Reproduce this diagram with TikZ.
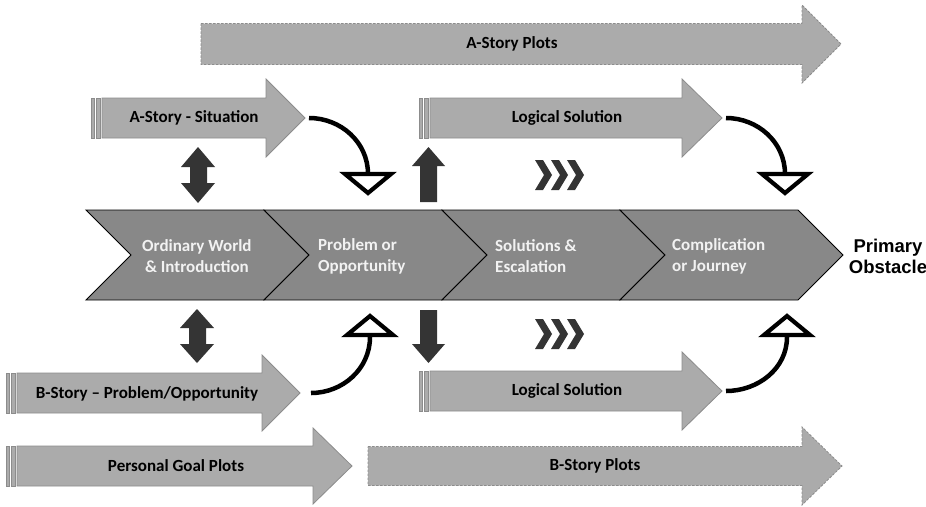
\documentclass[tikz,border=0pt]{standalone}
\usepackage{fontspec}
\setmainfont{Carlito}
\newfontfamily\headfont{Liberation Sans}

\definecolor{plotfill}{RGB}{171,171,171}
\definecolor{plotedge}{RGB}{140,140,140}
\definecolor{stagefill}{RGB}{136,136,136}
\definecolor{stagetext}{RGB}{242,242,242}
\definecolor{markfill}{RGB}{52,52,52}

% block arrow: #1 style, #2 left x, #3 head base x, #4 tip x, #5 centre y, #6 body half height, #7 head half height
\newcommand\plotshape[7]{%
  \path[#1] (#2,#5-#6) -- (#3,#5-#6) -- (#3,#5-#7) -- (#4,#5) -- (#3,#5+#7)
    -- (#3,#5+#6) -- (#2,#5+#6) -- cycle;}
% striped tail: two thin bars left of the body; #1 left x, #2 centre y, #3 half height
\newcommand\plotstripes[3]{%
  \path[plotbar] (#1,#2-#3) rectangle (#1+3,#2+#3);
  \path[plotbar] (#1+5,#2-#3) rectangle (#1+9,#2+#3);}
% one stage of the main band: #1 left x
\newcommand\stageshape[1]{%
  \path[stage] (#1,210) -- (#1+178,210) -- (#1+223,255) -- (#1+178,300)
    -- (#1,300) -- (#1+45,255) -- cycle;}
% small chevron mark: #1 left x, #2 top y
\newcommand\chevmark[2]{%
  \path[mark fill] (#1,#2) -- (#1+8,#2) -- (#1+17,#2+15) -- (#1+8,#2+30)
    -- (#1,#2+30) -- (#1+9,#2+15) -- cycle;}

\tikzset{
  plotbody/.style={fill=plotfill, draw=plotedge, line width=0.8pt, line join=miter},
  plotdash/.style={plotbody, dash pattern=on 2.5pt off 1.5pt},
  plotbar/.style={fill=plotfill, draw=plotedge, line width=0.6pt},
  plotlabel/.style={font=\bfseries\fontsize{17}{21}\selectfont, text=black},
  stage/.style={fill=stagefill, draw=black, line width=0.9pt, line join=miter},
  stagelabel/.style={font=\bfseries\fontsize{17}{21}\selectfont, text=stagetext,
    align=left, anchor=west, inner sep=0pt},
  mark fill/.style={fill=markfill},
  bendline/.style={draw=black, line width=4.5pt},
  opentip/.style={draw=black, fill=white, line width=4.2pt, line join=miter},
}

\begin{document}
\begin{tikzpicture}[x=1pt,y=-1pt]
\useasboundingbox (0,0) rectangle (926,506);
\clip (0,0) rectangle (926,506);
\fill[white] (0,0) rectangle (926,506);

% plot arrows
\plotshape{plotdash}{201}{802}{841}{44}{20.5}{39}
\node[plotlabel] (aplots) at (512,44) {A-Story Plots};

\plotstripes{91}{118}{20}
\plotshape{plotbody}{102}{266}{305}{118}{20}{39}
\node[plotlabel] (asit) at (194,118) {A-Story - Situation};
\coordinate (asit-tip) at (309,118);

\plotstripes{419}{118}{20}
\plotshape{plotbody}{430}{682}{722}{118}{20}{39}
\node[plotlabel] (alog) at (567,118) {Logical Solution};
\coordinate (alog-tip) at (726,118);

\plotstripes{6}{393}{20}
\plotshape{plotbody}{17}{262}{300}{393}{20}{38}
\node[plotlabel] (bprob) at (147,394) {B-Story – Problem/Opportunity};
\coordinate (bprob-tip) at (311,393);

\plotstripes{419}{391}{20}
\plotshape{plotbody}{430}{682}{722}{391}{20}{39}
\node[plotlabel] (blog) at (567,391) {Logical Solution};
\coordinate (blog-tip) at (726,391);

\plotstripes{6}{466}{20}
\plotshape{plotbody}{17}{313}{352}{466}{20}{38}
\node[plotlabel] (goal) at (176,466) {Personal Goal Plots};

\plotshape{plotdash}{368}{802}{842}{466}{19.5}{39}
\node[plotlabel] (bplots) at (595,466) {B-Story Plots};

% main band of stages
\stageshape{86}
\stageshape{264}
\stageshape{442}
\stageshape{620}
\node[stagelabel] (s1) at (142,256) {Ordinary World\\\,\& Introduction};
\node[stagelabel] (s2) at (318,256) {Problem or\\Opportunity};
\node[stagelabel] (s3) at (495,256) {Solutions \&\\Escalation};
\node[stagelabel] (s4) at (672,256) {Complication\\or Journey};
\node[font=\headfont\bfseries\fontsize{18.5}{21}\selectfont, align=center, inner sep=0pt]
  (goalend) at (888,256) {Primary\\Obstacle};

% double-headed markers
\path[mark fill] (198,147) -- (215,167) -- (207,167) -- (207,183) -- (215,183)
  -- (198,203) -- (181,183) -- (190,183) -- (190,167) -- (181,167) -- cycle;
\path[mark fill] (197,309) -- (214,328) -- (206,328) -- (206,344) -- (214,344)
  -- (197,363) -- (180,344) -- (189,344) -- (189,328) -- (180,328) -- cycle;

% up and down markers
\path[mark fill] (428.5,147) -- (445,166) -- (437,166) -- (437,202) -- (420,202)
  -- (420,166) -- (412,166) -- cycle;
\path[mark fill] (428.5,363) -- (445,344) -- (437,344) -- (437,310) -- (420,310)
  -- (420,344) -- (412,344) -- cycle;

% progression marks
\chevmark{535}{160}\chevmark{551}{160}\chevmark{567}{160}
\chevmark{535}{319}\chevmark{551}{319}\chevmark{567}{319}

% open triangle tips
\path[opentip] (345,174) -- (391,174) -- (368,193) -- cycle;
\coordinate (tipa) at (368,174);
\path[opentip] (762,174) -- (808,174) -- (785,193) -- cycle;
\coordinate (tipb) at (785,174);
\path[opentip] (347,335) -- (393,335) -- (370,316) -- cycle;
\coordinate (tipc) at (370,337);
\path[opentip] (764,335) -- (810,335) -- (787,316) -- cycle;
\coordinate (tipd) at (787,337);

% curved connectors
\draw[bendline] (asit-tip) to[out=0, in=90] (tipa);
\draw[bendline] (alog-tip) to[out=0, in=90] (tipb);
\draw[bendline] (bprob-tip) to[out=0, in=-90] (tipc);
\draw[bendline] (blog-tip) to[out=0, in=-90] (tipd);
\end{tikzpicture}
\end{document}
